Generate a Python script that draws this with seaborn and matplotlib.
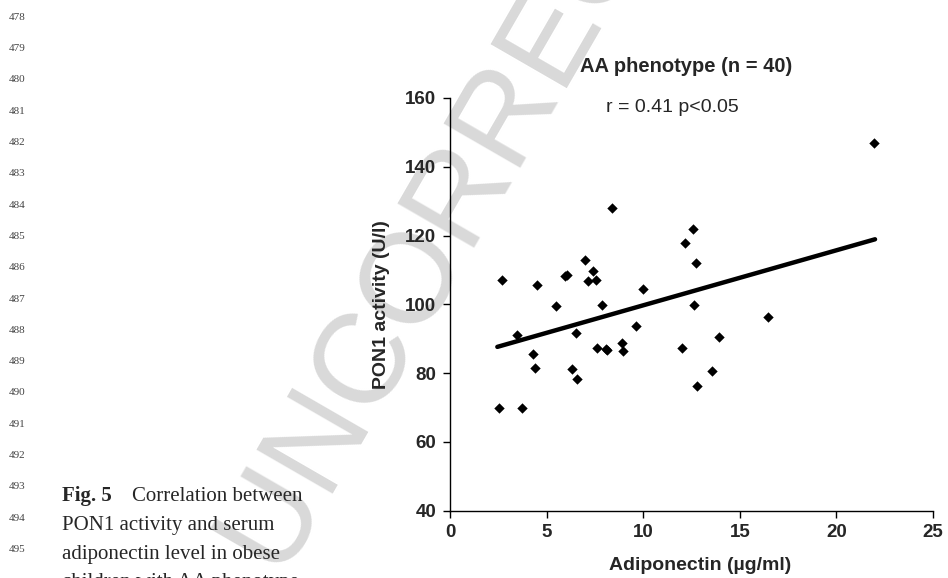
import matplotlib
matplotlib.use('Agg')
import matplotlib.pyplot as plt
import seaborn as sns
import pandas as pd

# adiponectin (ug/ml) vs PON1 activity (U/l)
adiponectin = [2.55, 2.71, 3.48, 3.74, 4.31, 4.40, 4.52, 5.48, 5.95, 6.04,
               6.29, 6.52, 6.59, 6.98, 7.16, 7.38, 7.55, 7.62, 7.88, 8.10,
               8.41, 8.89, 8.96, 9.62, 10.0, 12.02, 12.17, 12.56, 12.63, 12.72,
               12.79, 13.57, 13.90, 16.45, 21.95, 8.11]
pon1 = [69.9, 107.0, 91.2, 69.9, 85.6, 81.4, 105.7, 99.4, 108.2, 108.4,
        81.1, 91.5, 78.4, 112.8, 106.8, 109.7, 107.0, 87.4, 99.9, 86.9,
        128.0, 88.8, 86.3, 93.6, 104.4, 87.3, 117.9, 121.8, 99.9, 112.0,
        76.1, 80.6, 90.5, 96.3, 146.8, 86.8]
trend_x = [2.45, 22.0]
trend_y = [87.6, 118.9]

x_ticks = [0, 5, 10, 15, 20, 25]
y_ticks = [40, 60, 80, 100, 120, 140, 160]
line_numbers = list(range(478, 496))
caption = ["PON1 activity and serum", "adiponectin level in obese",
           "children with AA phenotype"]

df = pd.DataFrame({'Adiponectin': adiponectin, 'PON1': pon1})
trend = pd.DataFrame({'x': trend_x, 'y': trend_y})

sns.set_theme(style='white')
plt.rcParams['font.family'] = ['Liberation Sans', 'DejaVu Sans']

fig = plt.figure(figsize=(9.48, 5.78), dpi=100)
W, H = 948.0, 578.0

# page decorations: watermark, line numbers, caption
fig.text(277 / W, 1 - 573 / H, "UNCORRECTED", fontsize=92, color='#d9d9d9',
         rotation=60, rotation_mode='anchor', ha='left', va='baseline',
         zorder=-5)
for i, n in enumerate(line_numbers):
    fig.text(9 / W, 1 - (17.3 + i * 31.3) / H, str(n), fontsize=8,
             family='Liberation Serif', color='#444444', ha='left', va='center')
fig.text(62 / W, 1 - 501 / H, "Fig. 5", fontsize=15, family='Liberation Serif',
         weight='bold', ha='left', va='baseline')
fig.text(132 / W, 1 - 501 / H, "Correlation between", fontsize=15,
         family='Liberation Serif', ha='left', va='baseline')
for i, line in enumerate(caption):
    fig.text(62 / W, 1 - (530 + i * 28.5) / H, line, fontsize=15,
             family='Liberation Serif', ha='left', va='baseline')

ax = fig.add_axes([450 / W, 1 - 510.5 / H, 483 / W, 412.5 / H])
ax.set_facecolor('none')

sns.lineplot(data=trend, x='x', y='y', ax=ax, color='black', linewidth=3.2,
             zorder=2)
sns.scatterplot(data=df, x='Adiponectin', y='PON1', ax=ax, marker='D',
                color='black', s=28, linewidth=0, zorder=3)

ax.set_xlim(0, 25)
ax.set_ylim(40, 160)
ax.set_xticks(x_ticks)
ax.set_yticks(y_ticks)
for s in ['top', 'right']:
    ax.spines[s].set_visible(False)
for s in ['left', 'bottom']:
    ax.spines[s].set_color('black')
    ax.spines[s].set_linewidth(1.0)
ax.tick_params(axis='both', which='major', direction='out', length=5,
               width=1, color='black', labelsize=13.5, pad=5, left=True,
               bottom=True)
for lab in ax.get_xticklabels() + ax.get_yticklabels():
    lab.set_fontweight('bold')
ax.tick_params(axis='x', pad=4.5)

ax.set_xlabel("Adiponectin (\u00b5g/ml)", fontsize=14, weight='bold',
              va='top')
ax.xaxis.set_label_coords((700 - 450) / 483, (510.5 - 557) / 412.5)
ax.set_ylabel("PON1 activity (U/l)", fontsize=14, weight='bold',
              va='center')
ax.yaxis.set_label_coords((381 - 450) / 483, (510.5 - 305) / 412.5)

ax.text((686 - 450) / 483, (510.5 - 67) / 412.5, "AA phenotype (n = 40)",
        transform=ax.transAxes, fontsize=14.5, weight='bold',
        ha='center', va='center')
ax.text((672 - 450) / 483, (510.5 - 107) / 412.5, "r = 0.41 p<0.05",
        transform=ax.transAxes, fontsize=14, ha='center', va='center')

fig.savefig('out.png', dpi=100)
